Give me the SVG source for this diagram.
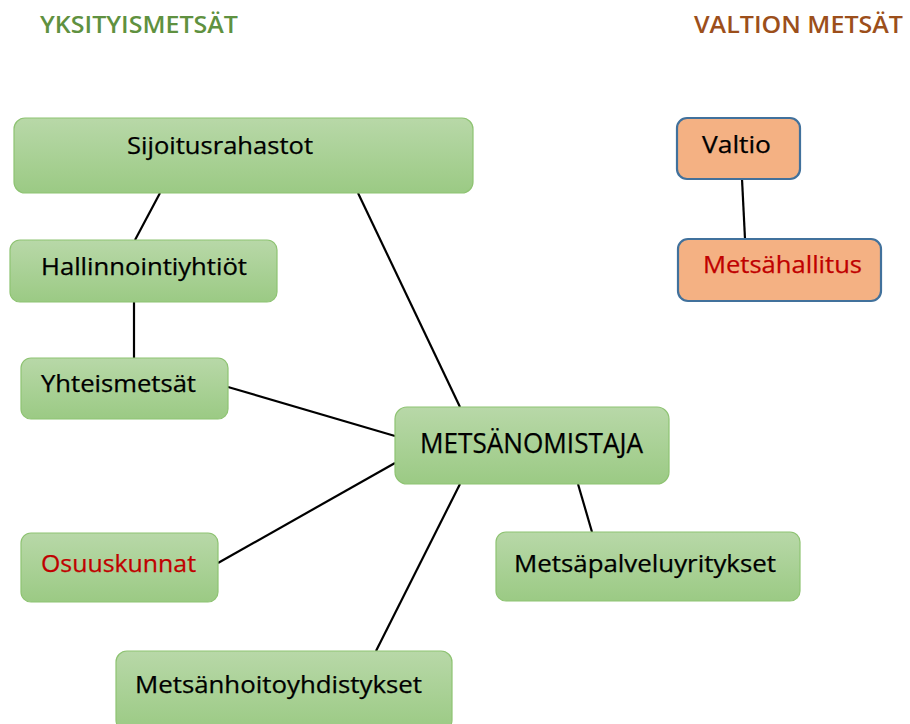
<svg xmlns="http://www.w3.org/2000/svg" width="910" height="724" viewBox="0 0 910 724">
<defs>
<linearGradient id="gg" x1="0" y1="0" x2="0" y2="1">
<stop offset="0" stop-color="#b8d8a8"/>
<stop offset="1" stop-color="#9bca84"/>
</linearGradient>
<style>
.g{fill:url(#gg);stroke:#8ec372;stroke-width:1.2}
.o{fill:#f4b183;stroke:#41719c;stroke-width:2.2}
.t{font-family:"Open Sans","Noto Sans",sans-serif;font-size:24px;fill:#000;stroke:#000;stroke-width:0.25}
.r{fill:#c00000;stroke:#c00000}
.c line{stroke:#000;stroke-width:2.2}
.h{font-family:"Open Sans","Noto Sans",sans-serif;font-size:24px;font-weight:600}
</style>
</defs>
<rect width="910" height="724" fill="#fff"/>
<text class="h" x="40" y="33" fill="#5f9140" textLength="198" lengthAdjust="spacingAndGlyphs">YKSITYISMETSÄT</text>
<text class="h" x="694" y="33" fill="#9c4f1b" textLength="209" lengthAdjust="spacingAndGlyphs">VALTION METSÄT</text>
<g class="c">
<line x1="160" y1="193" x2="135" y2="240"/>
<line x1="358" y1="193" x2="460" y2="407"/>
<line x1="134" y1="302" x2="134" y2="358"/>
<line x1="228" y1="387" x2="395" y2="436"/>
<line x1="218" y1="563" x2="395" y2="463"/>
<line x1="376" y1="651" x2="460" y2="484"/>
<line x1="592" y1="532" x2="578" y2="484"/>
<line x1="742" y1="179" x2="745" y2="239"/>
</g>
<g id="sijoitusrahastot"><rect class="g" x="14" y="118" width="459" height="75" rx="11"/><text class="t" x="127" y="154" textLength="186" lengthAdjust="spacingAndGlyphs">Sijoitusrahastot</text></g>
<g id="hallinnointiyhtiot"><rect class="g" x="10" y="240" width="267" height="62" rx="10"/><text class="t" x="41" y="275" textLength="206" lengthAdjust="spacingAndGlyphs">Hallinnointiyhtiöt</text></g>
<g id="yhteismetsat"><rect class="g" x="21" y="358" width="207" height="61" rx="10"/><text class="t" x="41" y="392" textLength="155" lengthAdjust="spacingAndGlyphs">Yhteismetsät</text></g>
<g id="metsanomistaja"><rect class="g" x="395" y="407" width="274" height="77" rx="12"/><text class="t" x="420" y="453" style="font-size:28px" textLength="223" lengthAdjust="spacingAndGlyphs">METSÄNOMISTAJA</text></g>
<g id="osuuskunnat"><rect class="g" x="21" y="533" width="197" height="69" rx="10"/><text class="t r" x="41" y="572" textLength="155" lengthAdjust="spacingAndGlyphs">Osuuskunnat</text></g>
<g id="metsapalveluyritykset"><rect class="g" x="496" y="532" width="304" height="69" rx="10"/><text class="t" x="514" y="572" textLength="262" lengthAdjust="spacingAndGlyphs">Metsäpalveluyritykset</text></g>
<g id="metsanhoitoyhdistykset"><rect class="g" x="116" y="651" width="336" height="80" rx="11"/><text class="t" x="135" y="693" textLength="287" lengthAdjust="spacingAndGlyphs">Metsänhoitoyhdistykset</text></g>
<g id="valtio"><rect class="o" x="677" y="118" width="123" height="61" rx="10"/><text class="t" x="702" y="153" textLength="69" lengthAdjust="spacingAndGlyphs">Valtio</text></g>
<g id="metsahallitus"><rect class="o" x="678" y="239" width="203" height="62" rx="10"/><text class="t r" x="703" y="273" textLength="159" lengthAdjust="spacingAndGlyphs">Metsähallitus</text></g>
</svg>
